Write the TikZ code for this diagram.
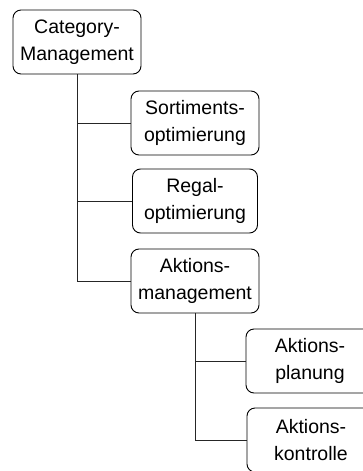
\documentclass[tikz,border=0pt]{standalone}
\usepackage{fontspec}
\setmainfont{Liberation Sans}
\begin{document}
\begin{tikzpicture}[x=1pt,y=-1pt,
  box/.style={draw=black, line width=0.9pt, rounded corners=8pt, minimum width=128pt, minimum height=64pt, align=center, inner sep=0pt, font=\fontsize{19.5}{27}\selectfont},
  conn/.style={draw=black!85, line width=1pt}]
\useasboundingbox (0,0) rectangle (363,471);
\clip (0,0) rectangle (363,471);
\node[box] (cm) at (77,42) {Category-\\Management};
\node[box] (so) at (195,123) {Sortiments-\\optimierung};
\node[box, minimum width=125pt] (re) at (195,201) {Regal-\\optimierung};
\node[box] (am) at (195,281) {Aktions-\\management};
\node[box] (ap) at (310,361) {Aktions-\\planung};
\node[box] (ak) at (311,440) {Aktions-\\kontrolle};
\draw[conn] (cm.south) |- (so.west);
\draw[conn] (cm.south) |- (re.west);
\draw[conn] (cm.south) |- (am.west);
\draw[conn] (am.south) |- (ap.west);
\draw[conn] (am.south) |- (ak.west);
\end{tikzpicture}
\end{document}
